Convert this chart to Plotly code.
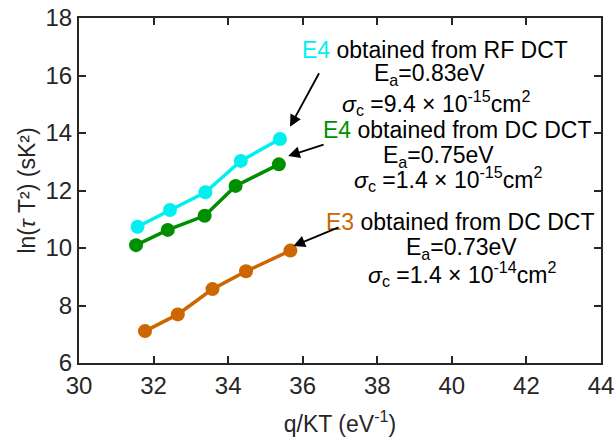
import plotly.graph_objects as go

# Data
x_rf_e4 = [31.57, 32.44, 33.39, 34.34, 35.39]
y_rf_e4 = [10.74, 11.32, 11.94, 13.03, 13.79]

x_dc_e4 = [31.53, 32.38, 33.37, 34.20, 35.36]
y_dc_e4 = [10.10, 10.63, 11.12, 12.16, 12.91]

x_dc_e3 = [31.77, 32.65, 33.58, 34.48, 35.67]
y_dc_e3 = [7.11, 7.69, 8.57, 9.19, 9.91]

x_ticks = [30, 32, 34, 36, 38, 40, 42, 44]
y_ticks = [6, 8, 10, 12, 14, 16, 18]

CYAN = "#00F0F0"
GREEN = "#008F00"
ORANGE = "#CC6600"
AX = "#262626"
FONT = "Arial, Liberation Sans, sans-serif"

fig = go.Figure()
for xs, ys, c in [(x_rf_e4, y_rf_e4, CYAN), (x_dc_e4, y_dc_e4, GREEN), (x_dc_e3, y_dc_e3, ORANGE)]:
    fig.add_trace(go.Scatter(x=xs, y=ys, mode="lines+markers",
                             line=dict(color=c, width=3.5),
                             marker=dict(color=c, size=14), showlegend=False))

axis_common = dict(showline=True, linewidth=2, linecolor=AX, mirror="ticks",
                   ticks="inside", ticklen=7, tickwidth=1.5, tickcolor=AX,
                   showgrid=False, zeroline=False, automargin=False,
                   ticklabeloverflow="allow",
                   tickfont=dict(family=FONT, size=24, color=AX))

fig.update_xaxes(range=[30, 44], tickvals=x_ticks, **axis_common,
                 title=dict(text="q/KT (eV<sup>-1</sup>)", font=dict(family=FONT, size=23, color=AX), standoff=18))
fig.update_yaxes(range=[6, 18], tickvals=y_ticks, **axis_common,
                 title=dict(text="ln(<i>τ</i> T²) (sK²)", font=dict(family=FONT, size=23, color=AX), standoff=3))

# text annotations
blocks = [
    (39.55, 16.89, f"<span style='color:{CYAN}'>E4</span> obtained from RF DCT"),
    (39.41, 16.04, "E<sub>a</sub>=0.83eV"),
    (39.58, 15.05, "<i>σ</i><sub>c</sub> =9.4 × 10<sup>-15</sup>cm<sup>2</sup>"),
    (40.14, 14.10, f"<span style='color:{GREEN}'>E4</span> obtained from DC DCT"),
    (39.63, 13.19, "E<sub>a</sub>=0.75eV"),
    (39.90, 12.40, "<i>σ</i><sub>c</sub> =1.4 × 10<sup>-15</sup>cm<sup>2</sup>"),
    (40.22, 10.90, f"<span style='color:{ORANGE}'>E3</span> obtained from DC DCT"),
    (40.27, 9.99, "E<sub>a</sub>=0.73eV"),
    (40.27, 9.08, "<i>σ</i><sub>c</sub> =1.4 × 10<sup>-14</sup>cm<sup>2</sup>"),
]
for x, y, t in blocks:
    fig.add_annotation(x=x, y=y, xref="x", yref="y", text=t, showarrow=False,
                       font=dict(family=FONT, size=23, color="black"),
                       xanchor="center", yanchor="middle")

arrows = [
    (35.66, 14.22, 36.46, 16.13),
    (35.61, 13.20, 36.60, 13.61),
    (35.75, 10.07, 37.00, 10.74),
]
for hx, hy, tx, ty in arrows:
    fig.add_annotation(x=hx, y=hy, ax=tx, ay=ty, xref="x", yref="y", axref="x", ayref="y",
                       text="", showarrow=True, arrowhead=2, arrowsize=1.3, arrowwidth=1.8,
                       arrowcolor="black")

fig.update_layout(width=614, height=439, margin=dict(l=79, r=13, t=18, b=76),
                  plot_bgcolor="white", paper_bgcolor="white",
                  font=dict(family=FONT))

fig.write_html("out.html", config={"displayModeBar": False},
               post_script="document.body.style.margin='0';document.body.style.overflow='hidden';")
